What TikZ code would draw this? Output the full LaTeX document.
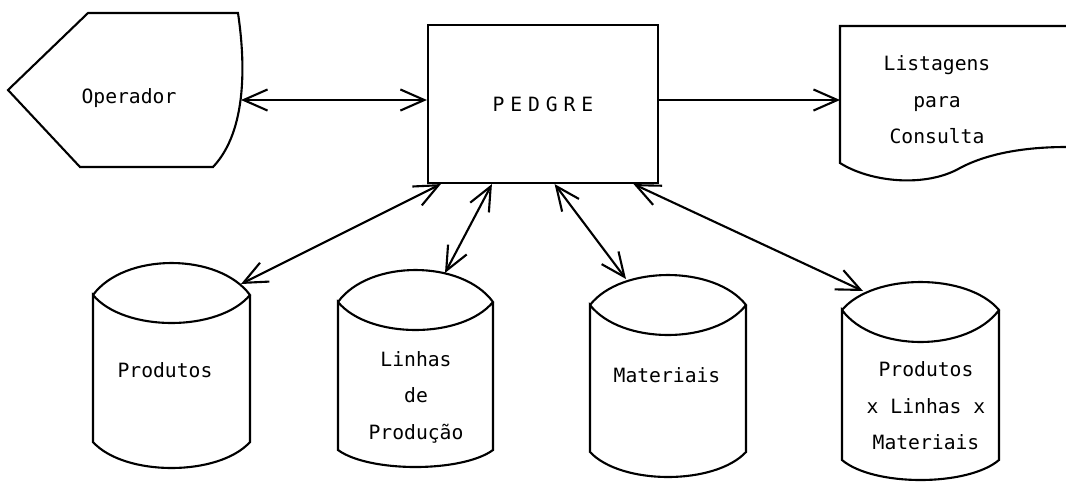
\documentclass[tikz,border=0pt]{standalone}
\usepackage{fontspec}
\setmonofont{DejaVu Sans Mono}
\usetikzlibrary{arrows.meta}
\usetikzlibrary{calc}

% cilindro: esquerda, direita, topo, lados, fim dos lados, fundo
\newcommand\cilindro[6]{%
	\pgfmathsetmacro\cilDx{0.2*(#2-#1)}
	\pgfmathsetmacro\cilA{(4*#3-#4)/3}
	\pgfmathsetmacro\cilB{(4*(#3+60)-#4)/3}
	\pgfmathsetmacro\cilC{(4*#6-#5)/3}
	\draw (#1,#4) .. controls (#1+\cilDx,\cilA) and (#2-\cilDx,\cilA) .. (#2,#4)
		.. controls (#2-\cilDx,\cilB) and (#1+\cilDx,\cilB) .. (#1,#4)
		-- (#1,#5) .. controls (#1+\cilDx,\cilC) and (#2-\cilDx,\cilC) .. (#2,#5) -- (#2,#4);
}

\begin{document}
\begin{tikzpicture}[x=0.025cm,y=-0.025cm,line width=1.5pt,
	>={Straight Barb[length=17pt,width=15pt]},
	rotulo/.style={font=\ttfamily\fontsize{14}{26}\selectfont, align=center, inner sep=0pt},
	caixa/.style={draw, minimum width=5.75cm, minimum height=3.95cm, inner sep=0pt}]
	
	\useasboundingbox (0,0) rectangle (1066,483);
	
	% operador
	\draw (88,13) -- (238,13) .. controls (245,60) and (248,130) .. (213,167)
		-- (80,167) -- (8,90) -- cycle;
	\node[rotulo] (operador) at (129,98) {Operador};
	\coordinate (op-dir) at (241,100);
	
	% sistema
	\node[caixa, rotulo, font=\ttfamily\fontsize{14}{26}\selectfont\addfontfeatures{LetterSpace=30}] (pedgre) at (543,104) {PEDGRE};
	
	% listagens
	\draw (1066,26) -- (840,26) -- (840,163) .. controls (870,182) and (925,188) .. (960,168)
		.. controls (990,152) and (1030,147) .. (1066,147);
	\node[rotulo] (listagens) at (937,100) {Listagens\\para\\Consulta};
	\coordinate (lst-esq) at (840,100);
	
	% arquivos
	\cilindro{93}{250}{263}{295}{442}{468}
	\cilindro{338}{493}{270}{302}{450}{467}
	\cilindro{590}{746}{275}{305}{452}{477}
	\cilindro{842}{999}{282}{310}{460}{480}
	\node[rotulo] (produtos) at (165,370) {Produtos};
	\node[rotulo] (linhas) at (416,397) {Linhas\\de\\Produção};
	\node[rotulo] (materiais) at (667,375) {Materiais};
	\node[rotulo] (plm) at (926,406) {Produtos\\x Linhas x\\Materiais};
	\coordinate (prod-topo) at (241,284);
	\coordinate (linhas-topo) at (445,273);
	\coordinate (mat-topo) at (626,279);
	\coordinate (plm-topo) at (863,291);
	
	\draw[<->] (op-dir) -- (op-dir -| pedgre.west);
	\draw[->] (pedgre.east |- lst-esq) -- (lst-esq);
	\foreach \f/\alvo in {0.06/prod-topo, 0.28/linhas-topo, 0.55/mat-topo, 0.89/plm-topo}
		\draw[<->] ($(pedgre.south west)!\f!(pedgre.south east)$) -- (\alvo);
	
\end{tikzpicture}
\end{document}
